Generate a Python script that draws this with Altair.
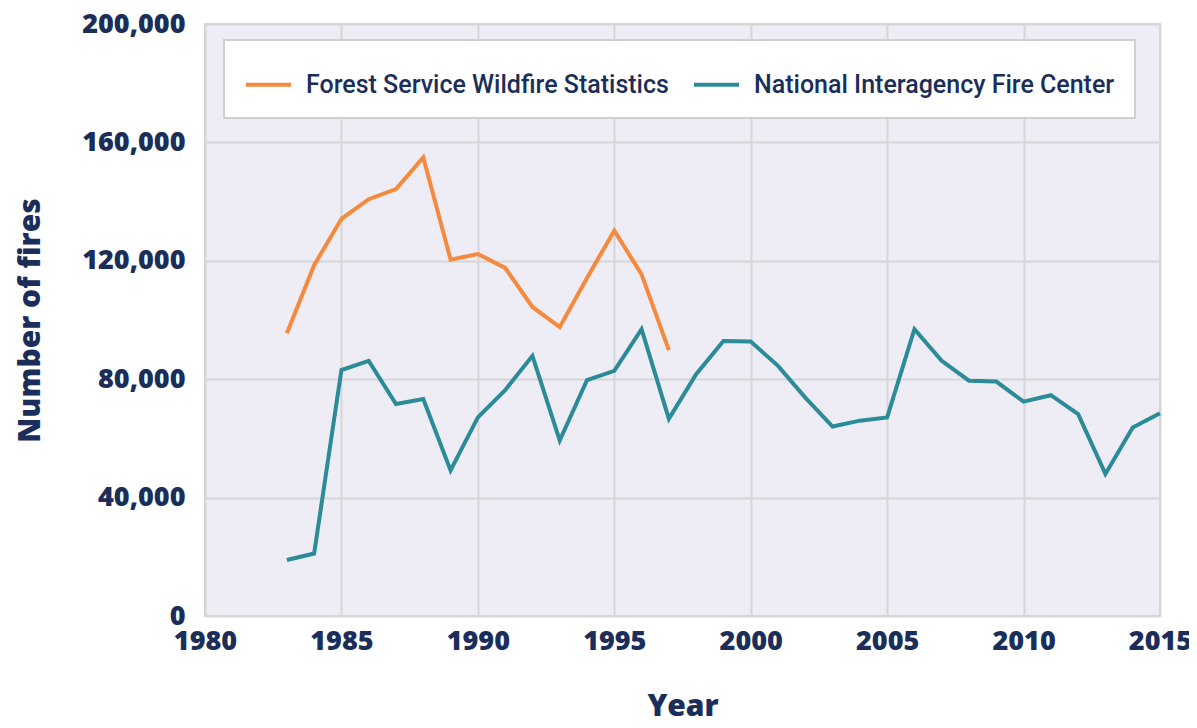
import altair as alt
import pandas as pd

years_fs = list(range(1983, 1998))
forest_service = [95500, 118500, 134200, 140800, 144200, 154900, 120400, 122300,
                  117600, 104400, 97600, 114200, 130200, 115400, 89800]

years_nifc = list(range(1983, 2016))
nifc = [18900, 21100, 83100, 86200, 71600, 73300, 49200, 67100, 76300, 87900,
        59300, 79700, 82800, 96900, 66600, 81700, 92900, 92700, 84500, 73800,
        64000, 66000, 67100, 96900, 86200, 79500, 79200, 72400, 74600, 68200,
        48000, 63700, 68500]

series_names = ["Forest Service Wildfire Statistics", "National Interagency Fire Center"]
series_colors = ["#F5893D", "#2C8B99"]
x_ticks = [1980, 1985, 1990, 1995, 2000, 2005, 2010, 2015]
y_ticks = [0, 40000, 80000, 120000, 160000, 200000]

rows = [{"Year": y, "Fires": v, "Series": series_names[0]} for y, v in zip(years_fs, forest_service)]
rows += [{"Year": y, "Fires": v, "Series": series_names[1]} for y, v in zip(years_nifc, nifc)]
df = pd.DataFrame(rows)

navy = "#1B2E5A"
font = "Open Sans"

chart = alt.Chart(df).mark_line(strokeWidth=4, strokeJoin="miter").encode(
    x=alt.X("Year:Q",
            scale=alt.Scale(domain=[1980, 2015], nice=False, zero=False),
            axis=alt.Axis(values=x_ticks, format="d", title="Year", tickSize=0,
                          labelPadding=12, titlePadding=37, domain=False,
                          labelFlush=False,
                          gridColor="#D6D6D8", gridWidth=2)),
    y=alt.Y("Fires:Q",
            scale=alt.Scale(domain=[0, 200000], nice=False),
            axis=alt.Axis(values=y_ticks, format=",d", title="Number of fires", tickSize=0,
                          labelPadding=20, titlePadding=36, domain=False,
                          labelFlush=False,
                          gridColor="#D6D6D8", gridWidth=2)),
    color=alt.Color("Series:N",
                    scale=alt.Scale(domain=series_names, range=series_colors),
                    legend=alt.Legend(title=None, orient="none", legendX=19, legendY=16,
                                      direction="horizontal", fillColor="white",
                                      strokeColor="#CFCFD4",
                                      padding=20, symbolType="stroke",
                                      symbolSize=2025, symbolStrokeWidth=4,
                                      labelFont="Roboto", labelFontWeight=500,
                                      labelFontSize=25, labelColor=navy,
                                      labelOffset=13, columnPadding=17,
                                      labelLimit=500)),
).properties(
    width=955, height=592,
    background="white",
    padding={"left": 197, "top": 16, "right": 29, "bottom": 104},
    autosize=alt.AutoSizeParams(type="none"),
).configure_view(
    fill="#EEECF4", stroke="#D6D6D8", strokeWidth=2
).configure_legend(
    strokeWidth=2
).configure_axis(
    labelFont=font, labelFontSize=27, labelFontWeight=800, labelColor=navy,
    titleFont=font, titleFontSize=30, titleFontWeight=800, titleColor=navy,
)

chart.save("out.html", embed_options={"renderer": "svg", "actions": False})
